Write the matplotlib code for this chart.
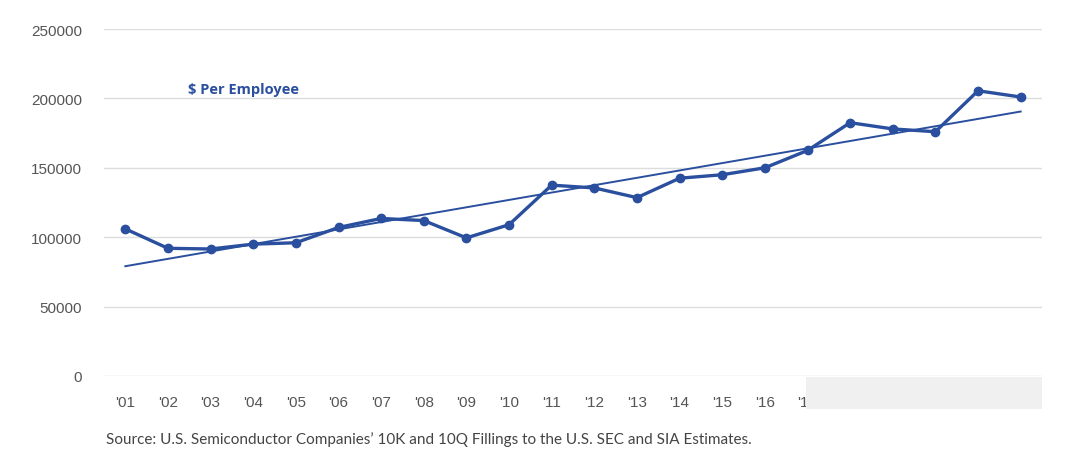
import numpy as np
import matplotlib.pyplot as plt
from matplotlib.patches import Rectangle

# Revenue per employee, U.S. semiconductor companies
years = ["'01", "'02", "'03", "'04", "'05", "'06", "'07", "'08", "'09", "'10", "'11",
         "'12", "'13", "'14", "'15", "'16", "'17", "'18", "'19", "'20", "'21", "'22"]
per_employee = [106000, 92000, 91500, 95000, 96000, 107000, 113500, 112000, 99500, 109000, 137500,
                135500, 128500, 142500, 145000, 150000, 162500, 182500, 178000, 176000, 205500, 201000]
y_ticks = [0, 50000, 100000, 150000, 200000, 250000]

blue = '#2a4f9e'
x = np.arange(len(years))

fig = plt.figure(figsize=(10.8, 4.56), dpi=100)
ax = fig.add_axes([104 / 1080, 79 / 456, 938 / 1080, 347 / 456])

# Data line and linear trend
ax.plot(x, per_employee, color=blue, linewidth=2.4, marker='o', markersize=6, zorder=3)
coef = np.polyfit(x, per_employee, 1)
ax.plot(x, np.polyval(coef, x), color=blue, linewidth=1.4, zorder=2)

ax.set_xlim(-0.5, len(years) - 0.5)
ax.set_ylim(0, 250000)
ax.set_yticks(y_ticks)
ax.set_yticklabels([str(t) for t in y_ticks])
ax.set_xticks(x)
ax.set_xticklabels(years)
ax.grid(axis='y', color='#dddddd', linewidth=1)
ax.set_axisbelow(True)
for s in ax.spines.values():
    s.set_visible(False)
ax.tick_params(length=0, labelsize=11, labelcolor='#555555', pad=14)
ax.tick_params(axis='y', pad=16)
for lab in ax.get_xticklabels() + ax.get_yticklabels():
    lab.set_family('Liberation Sans')

ax.text((188 - 104) / 938, (456 - 90 - 79) / 347, '$ Per Employee', transform=ax.transAxes,
        color=blue, fontsize=10.5, fontweight='bold', family='Open Sans', va='center')

# Light box hiding the last labels
fig.patches.append(Rectangle((806 / 1080, 46 / 456), 236 / 1080, 32 / 456,
                             transform=fig.transFigure, facecolor='#f0f0f0',
                             edgecolor='none', zorder=10))

fig.text(106 / 1080, 1 - 440 / 456, "Source: U.S. Semiconductor Companies\u2019 10K and 10Q Fillings to the U.S. SEC and SIA Estimates.",
         fontsize=11, color='#444444', family='Lato', va='center')

plt.savefig('out.png')
